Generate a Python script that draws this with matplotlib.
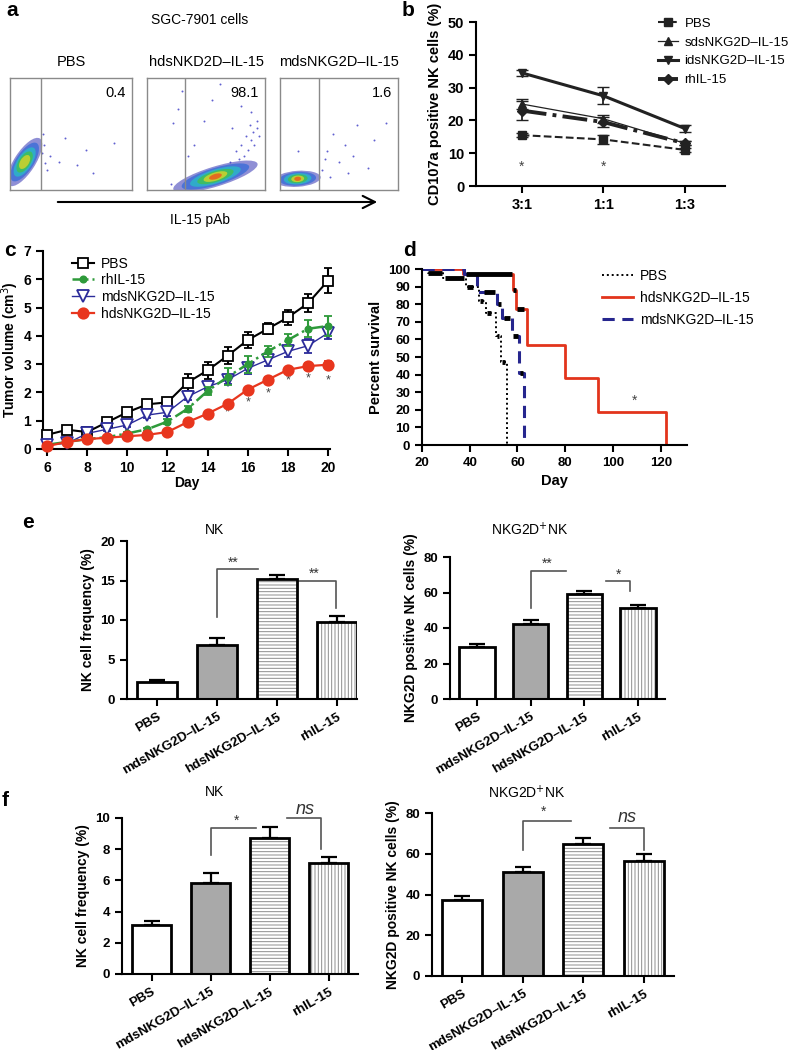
import numpy as np
import matplotlib
matplotlib.use("Agg")
import matplotlib.pyplot as plt
from matplotlib.patches import Ellipse, FancyArrowPatch
from matplotlib.lines import Line2D

plt.rcParams['font.family'] = ['Liberation Sans', 'DejaVu Sans']
plt.rcParams['hatch.linewidth'] = 0.7
plt.rcParams['axes.linewidth'] = 1.5

W, H = 800, 1050

# ---------------- data ----------------
# panel a: flow cytometry
flow_titles = ['PBS', 'hdsNKD2D\u2013IL-15', 'mdsNKG2D\u2013IL-15']
flow_pct = ['0.4', '98.1', '1.6']
flow_gate = [0.25, 0.32, 0.33]
# blobs: (cx frac, cy frac, length px, thickness px, angle, n_layers)
flow_blobs = [
    [(0.12, 0.25, 56, 21, 57, 5)],
    [(0.58, 0.12, 88, 20, 17, 6)],
    [(0.15, 0.10, 46, 16, 4, 6)],
]
flow_dots = [
    [(0.28, 0.40), (0.33, 0.30), (0.45, 0.46), (0.55, 0.22), (0.62, 0.36), (0.30, 0.18), (0.85, 0.42),
     (0.68, 0.15), (0.27, 0.50), (0.40, 0.25), (0.26, 0.33), (0.29, 0.24)],
    [(0.22, 0.60), (0.26, 0.72), (0.30, 0.88), (0.48, 0.62), (0.55, 0.80), (0.62, 0.95), (0.80, 0.75),
     (0.88, 0.70), (0.93, 0.62), (0.40, 0.40), (0.20, 0.05), (0.35, 0.30), (0.72, 0.55), (0.82, 0.30),
     (0.86, 0.36), (0.88, 0.45), (0.90, 0.52), (0.84, 0.48), (0.91, 0.40), (0.78, 0.28), (0.93, 0.55),
     (0.80, 0.40), (0.87, 0.58), (0.75, 0.35), (0.70, 0.25), (0.95, 0.48)],
    [(0.40, 0.35), (0.45, 0.50), (0.50, 0.25), (0.55, 0.40), (0.62, 0.30), (0.65, 0.58), (0.75, 0.20),
     (0.80, 0.45), (0.90, 0.60), (0.58, 0.15), (0.15, 0.35), (0.36, 0.18), (0.38, 0.28), (0.42, 0.12)],
]

# panel b
ratios = ['3:1', '1:1', '1:3']
b_pbs = [15.5, 14.2, 11.0]
b_pbs_err = [0.6, 1.3, 0.6]
b_sds = [25.0, 20.5, 13.0]
b_sds_err = [1.6, 1.2, 0.6]
b_ids = [34.5, 27.5, 17.5]
b_ids_err = [1.0, 2.6, 1.0]
b_rh = [23.0, 19.5, 13.0]
b_rh_err = [3.0, 1.6, 0.6]
b_star_y = 6

# panel c
days = list(range(6, 21))
c_pbs = [0.5, 0.68, 0.6, 0.95, 1.3, 1.58, 1.65, 2.35, 2.78, 3.3, 3.85, 4.25, 4.65, 5.15, 5.95]
c_pbs_err = [0.05, 0.05, 0.05, 0.08, 0.08, 0.08, 0.12, 0.3, 0.3, 0.3, 0.28, 0.2, 0.25, 0.32, 0.45]
c_rh = [0.15, 0.25, 0.35, 0.42, 0.55, 0.7, 0.97, 1.42, 2.05, 2.55, 3.0, 3.45, 3.85, 4.25, 4.35]
c_rh_err = [0.05, 0.05, 0.05, 0.05, 0.05, 0.05, 0.08, 0.1, 0.15, 0.3, 0.3, 0.2, 0.2, 0.3, 0.35]
c_mds = [0.15, 0.2, 0.55, 0.7, 0.85, 1.2, 1.3, 1.85, 2.2, 2.45, 2.85, 3.15, 3.45, 3.65, 4.1]
c_mds_err = [0.05, 0.05, 0.05, 0.08, 0.08, 0.1, 0.12, 0.12, 0.12, 0.15, 0.2, 0.2, 0.2, 0.25, 0.2]
c_hds = [0.1, 0.25, 0.35, 0.4, 0.45, 0.5, 0.6, 0.95, 1.25, 1.6, 2.1, 2.45, 2.8, 2.93, 2.98]
c_hds_err = [0.03, 0.03, 0.03, 0.03, 0.04, 0.05, 0.05, 0.06, 0.06, 0.06, 0.07, 0.08, 0.08, 0.12, 0.12]
c_star_days = [14, 15, 16, 17, 18, 19, 20]
c_star_y = [1.05, 1.3, 1.66, 1.96, 2.43, 2.5, 2.43]

# panel d: survival steps
d_pbs_t = [20, 22.6, 28.9, 38.5, 44, 47, 51, 53, 55.8]
d_pbs_s = [100, 98, 95, 89.5, 82, 75, 62, 47, 0]
d_hds_t = [20, 37, 58, 59.3, 64.1, 80, 93.9, 122]
d_hds_s = [100, 97, 88, 77, 57, 38, 19, 0]
d_mds_t = [20, 37.8, 43, 51.6, 53.6, 57.8, 60.6, 62.8]
d_mds_s = [100, 97, 87, 80, 72, 62, 41, 0]
# censored marks: (start, end, level)
d_censor = [(22.6, 28.2, 98), (29.5, 37.5, 95), (38.8, 41.5, 89.5), (44.3, 45.6, 82), (47.3, 48.8, 75),
            (51.3, 52.4, 62), (53.3, 54.8, 47), (38.5, 57.5, 97), (58.3, 59.2, 88), (59.6, 62.8, 77),
            (46.1, 50.5, 87), (52.0, 53.0, 80), (54.4, 57.0, 72), (58.0, 60.2, 62), (61.0, 62.2, 41)]
d_star = (109, 25)

# panels e, f
groups = ['PBS', 'mdsNKG2D\u2013IL-15', 'hdsNKG2D\u2013IL-15', 'rhIL-15']
e_nk = [2.2, 6.8, 15.2, 9.8]
e_nk_err = [0.25, 0.95, 0.55, 0.75]
e_nkg = [29.5, 42.0, 59.0, 51.5]
e_nkg_err = [1.6, 2.6, 1.6, 1.6]
f_nk = [3.15, 5.85, 8.75, 7.1]
f_nk_err = [0.22, 0.6, 0.65, 0.4]
f_nkg = [37.5, 51.0, 65.0, 56.5]
f_nkg_err = [1.6, 2.6, 2.6, 3.4]


def box(l, t, r, b):
    return [l / W, 1 - b / H, (r - l) / W, (b - t) / H]


def ftext(x, y, s, **kw):
    fig.text(x / W, 1 - y / H, s, **kw)


def style_axes(ax, fs=10):
    for sp in ('top', 'right'):
        ax.spines[sp].set_visible(False)
    ax.tick_params(direction='out', width=1.5, length=5, labelsize=fs)
    for lab in ax.get_xticklabels() + ax.get_yticklabels():
        lab.set_fontweight('bold')


fig = plt.figure(figsize=(8, 10.5), dpi=100)

# ---------------- panel a ----------------
layer_scale = [1.0, 0.8, 0.6, 0.43, 0.28, 0.15]
layer_col = ['#3434b4', '#3f6fd8', '#2eb2c8', '#3fbf5c', '#c9d12f', '#e8621e']
layer_alpha = [0.55, 0.85, 0.9, 0.9, 0.9, 0.9]
apos = [(10, 78, 132, 190), (147, 78, 265, 190), (280, 78, 398, 190)]
for i, p in enumerate(apos):
    bw, bh = p[2] - p[0], p[3] - p[1]
    ax = fig.add_axes(box(*p))
    ax.set_xlim(0, bw)
    ax.set_ylim(0, bh)
    ax.set_xticks([])
    ax.set_yticks([])
    for sp in ax.spines.values():
        sp.set_color('#8a8a8a')
        sp.set_linewidth(1)
    ax.axvline(flow_gate[i] * bw, color='#8a8a8a', lw=1)
    xs = [d[0] * bw for d in flow_dots[i]]
    ys = [d[1] * bh for d in flow_dots[i]]
    ax.scatter(xs, ys, s=2, color='#6060d0', lw=0)
    for cx, cy, ln, th, ang, n in flow_blobs[i]:
        for k in range(n):
            ax.add_patch(Ellipse((cx * bw, cy * bh), ln * layer_scale[k], th * layer_scale[k] ** 0.7,
                                 angle=ang, color=layer_col[k], lw=0, alpha=layer_alpha[k]))
    ax.text(0.95, 0.93, flow_pct[i], ha='right', va='top', fontsize=10.5, transform=ax.transAxes)
    ftext((p[0] + p[2]) / 2, 62, flow_titles[i], ha='center', va='center', fontsize=10.5)

ftext(200, 20, 'SGC-7901 cells', ha='center', va='center', fontsize=10)
ftext(200, 220, 'IL-15 pAb', ha='center', va='center', fontsize=10)
fig.patches.append(FancyArrowPatch((55 / W, 1 - 202 / H), (380 / W, 1 - 202 / H),
                                   transform=fig.transFigure, arrowstyle='->', mutation_scale=22,
                                   lw=1.5, color='black'))

# ---------------- panel b ----------------
ax = fig.add_axes(box(476, 22, 725, 186))
xb = np.arange(len(ratios))
b_styles = [
    (b_pbs, b_pbs_err, '--', 1.5, 's', 6, 'PBS'),
    (b_sds, b_sds_err, '-', 0.9, '^', 6, 'sdsNKG2D\u2013IL-15'),
    (b_ids, b_ids_err, '-', 2.2, 'v', 6, 'idsNKG2D\u2013IL-15'),
    (b_rh, b_rh_err, '-.', 2.8, 'D', 5, 'rhIL-15'),
]
handles = []
for vals, errs, ls, lw, mk, ms, lab in b_styles:
    ax.errorbar(xb, vals, yerr=errs, color='#222222', ls=ls, lw=lw, marker=mk, ms=ms,
                capsize=4, elinewidth=1.3)
    handles.append(Line2D([], [], color='#222222', ls=ls, lw=lw, marker=mk, ms=ms, label=lab))
for xi in xb[:2]:
    ax.text(xi, b_star_y, '*', ha='center', va='center', fontsize=10, color='#444444')
ax.set_xlim(-0.56, 2.49)
ax.set_ylim(0, 50)
ax.set_xticks(xb)
ax.set_xticklabels(ratios)
ax.set_yticks(range(0, 51, 10))
ax.set_ylabel('CD107a positive NK cells (%)', fontsize=10.5, fontweight='bold')
style_axes(ax, 10.5)
ax.legend(handles=handles, loc='upper left', bbox_to_anchor=(0.71, 1.06), frameon=False, fontsize=9.5,
          handlelength=1.5, labelspacing=0.5, handletextpad=0.5, borderaxespad=0)

# ---------------- panel c ----------------
ax = fig.add_axes(box(43, 251, 330, 449))
c_styles = [
    (c_pbs, c_pbs_err, 'black', '-', 1.5, 's', 6.5, 'white', 'PBS', 3),
    (c_rh, c_rh_err, '#2e9a3a', '-.', 1.8, 'o', 4.5, '#2e9a3a', 'rhIL-15', 5),
    (c_mds, c_mds_err, '#2b2b9a', '-', 1.0, 'v', 8, 'white', 'mdsNKG2D\u2013IL-15', 4),
    (c_hds, c_hds_err, '#e8361e', '-', 1.6, 'o', 7.5, '#e8361e', 'hdsNKG2D\u2013IL-15', 6),
]
handles = []
for vals, errs, col, ls, lw, mk, ms, mfc, lab, z in c_styles:
    ax.errorbar(days, vals, yerr=errs, color=col, ls=ls, lw=lw, marker=mk, ms=ms, mfc=mfc, mew=1.3,
                capsize=3, elinewidth=1.5, clip_on=False, zorder=z)
    handles.append(Line2D([], [], color=col, ls=ls, lw=lw, marker=mk, ms=ms, mfc=mfc, mew=1.3, label=lab))
for dx, dy in zip(c_star_days, c_star_y):
    ax.text(dx, dy, '*', ha='center', va='center', fontsize=9, color='#444444')
ax.set_xlim(5.8, 20.1)
ax.set_ylim(0, 7)
ax.set_xticks(range(6, 21, 2))
ax.set_yticks(range(0, 8))
ax.set_xlabel('Day', fontsize=10, fontweight='bold', labelpad=1)
ax.set_ylabel('Tumor volume (cm$^3$)', fontsize=10, fontweight='bold', labelpad=2)
style_axes(ax, 10)
ax.legend(handles=handles, loc='upper left', bbox_to_anchor=(0.08, 1.0), frameon=False, fontsize=10,
          handlelength=1.6, labelspacing=0.2, handletextpad=0.5, borderaxespad=0)

# ---------------- panel d ----------------
ax = fig.add_axes(box(422, 269, 687, 445))
ax.step(d_pbs_t, d_pbs_s, where='post', color='black', ls=(0, (1, 1.5)), lw=1.4, label='PBS')
ax.step(d_hds_t, d_hds_s, where='post', color='#e2341c', ls='-', lw=2, label='hdsNKG2D\u2013IL-15')
ax.step(d_mds_t, d_mds_s, where='post', color='#26268e', ls=(0, (4, 2.5)), lw=2.2, label='mdsNKG2D\u2013IL-15')
for s0, s1, lev in d_censor:
    ax.plot([s0, s1], [lev, lev], color='black', lw=3.5, solid_capstyle='butt')
ax.text(d_star[0], d_star[1], '*', ha='center', va='center', fontsize=10, color='#444444')
ax.set_xlim(20, 131)
ax.set_ylim(0, 100)
ax.set_xticks(range(20, 121, 20))
ax.set_yticks(range(0, 101, 10))
ax.set_xlabel('Day', fontsize=10.5, fontweight='bold')
ax.set_ylabel('Percent survival', fontsize=10.5, fontweight='bold')
style_axes(ax, 9.5)
ax.legend(loc='upper left', bbox_to_anchor=(0.66, 1.03), frameon=False, fontsize=10,
          handlelength=2.2, labelspacing=0.55, handletextpad=0.5, borderaxespad=0)


# ---------------- bar panels ----------------
def bar_panel(p, vals, errs, ymax, ystep, ylabel, title, title_y, brackets, xr):
    ax = fig.add_axes(box(*p))
    xs = np.arange(len(groups))
    face = ['white', '#a9a9a9', 'white', 'white']
    hatch = [None, None, '-----', '|||||']
    for i in xs:
        ax.bar(i, vals[i], width=0.66, color=face[i], edgecolor='#8c8c8c', hatch=hatch[i], lw=0, zorder=2)
        ax.bar(i, vals[i], width=0.66, fill=False, edgecolor='black', lw=2, zorder=3)
    ax.errorbar(xs, vals, yerr=[[0] * len(xs), errs], fmt='none', ecolor='black', elinewidth=1.6,
                capsize=6, capthick=1.6, zorder=1)
    for x0, y0, x1, y1, top, lab, lx, ly, italic in brackets:
        ax.plot([x0, x0, x1, x1], [y0, top, top, y1], color='#555555', lw=1.2, clip_on=False)
        ax.text(lx, ly, lab, ha='center', va='center', clip_on=False,
                fontsize=13 if italic else 10, style='italic' if italic else 'normal', color='#333333')
    ax.set_xlim(-0.5, xr)
    ax.set_ylim(0, ymax)
    ax.set_yticks(np.arange(0, ymax + 0.01, ystep))
    ax.set_xticks(xs)
    ax.set_xticklabels(groups, rotation=30, ha='right', rotation_mode='anchor')
    ax.set_ylabel(ylabel, fontsize=10, fontweight='bold')
    style_axes(ax, 9.5)
    ftext(title[0], title_y, title[1], ha='center', va='center', fontsize=10)
    return ax


# bracket: (x_start, y_start, x_end, y_end, top, label, label_x, label_y, italic)
bar_panel((127, 541, 357, 699), e_nk, e_nk_err, 20, 5, 'NK cell frequency (%)', (215, 'NK'), 530,
          [(1, 10.4, 1.68, 16.4, 16.4, '**', 1.27, 17.3, False),
           (2.36, 15.0, 2.98, 11.5, 15.0, '**', 2.62, 15.9, False)], 3.33)
bar_panel((450, 557, 665, 699), e_nkg, e_nkg_err, 80, 20, 'NKG2D positive NK cells (%)',
          (530, 'NKG2D$^{+}$NK'), 530,
          [(1, 51.3, 1.65, 72.3, 72.3, '**', 1.3, 76, False),
           (2.4, 66.5, 2.85, 61, 66.5, '*', 2.63, 70, False)], 3.5)
bar_panel((122, 818, 358, 974), f_nk, f_nk_err, 10, 2, 'NK cell frequency (%)', (215, 'NK'), 792,
          [(1, 7.6, 1.77, 9.35, 9.35, '*', 1.44, 9.85, False),
           (2.3, 9.98, 2.88, 8.0, 9.98, 'ns', 2.6, 10.55, True)], 3.5)
bar_panel((432, 813, 674, 976), f_nkg, f_nkg_err, 80, 20, 'NKG2D positive NK cells (%)',
          (527, 'NKG2D$^{+}$NK'), 793,
          [(1, 62, 1.8, 76.2, 76.2, '*', 1.35, 80.5, False),
           (2.45, 72.6, 3.0, 62, 72.6, 'ns', 2.72, 77.6, True)], 3.5)

# panel letters
for lab, x, y in [('a', 12, 10), ('b', 408, 10), ('c', 10, 250), ('d', 410, 250), ('e', 28, 522), ('f', 5, 800)]:
    ftext(x, y, lab, ha='center', va='center', fontsize=15, fontweight='bold')

fig.savefig('out.png', dpi=100)
